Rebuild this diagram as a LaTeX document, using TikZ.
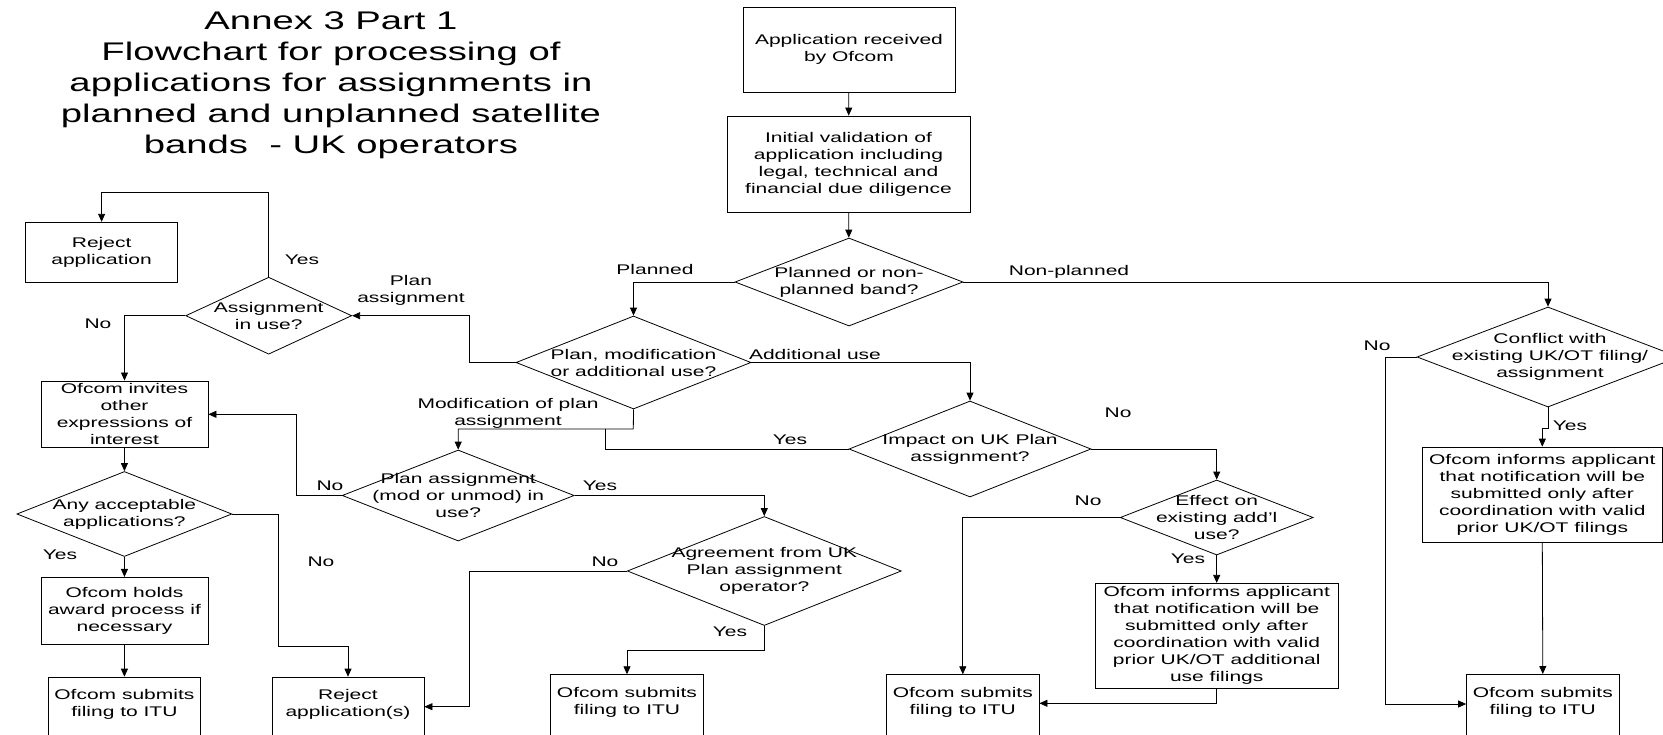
\documentclass[tikz,border=0pt]{standalone}
\usepackage{fontspec}
\setmainfont[FakeStretch=1.5]{Liberation Sans}
\usetikzlibrary{shapes.geometric,arrows.meta}
\begin{document}
\begin{tikzpicture}[x=1pt,y=-1pt,
  line width=0.8pt,
  every node/.style={inner sep=0pt,align=center,font=\fontsize{14}{17}\selectfont},
  box/.style={draw,rectangle},
  dia/.style={draw,diamond},
  lbl/.style={},
  ttl/.style={font=\fontsize{25.5}{31}\selectfont},
  arr/.style={-{Triangle[length=8pt,width=7pt]}},
]
\useasboundingbox (0,0) rectangle (1663,734);

% title
\node[ttl,anchor=north] (title) at (331,11) {Annex 3 Part 1\\Flowchart for processing of\\applications for assignments in\\planned and unplanned satellite\\bands\ \ - UK operators};

% boxes
\node[box,minimum width=212pt,minimum height=85pt] (A) at (849,49.5) {Application received\\by Ofcom};
\node[box,minimum width=243pt,minimum height=96pt] (B) at (848.5,164) {Initial validation of\\application including\\legal, technical and\\financial due diligence};
\node[dia,minimum width=228pt,minimum height=88pt] (D1) at (849,282) {};
\node (D1t) at (D1) {Planned or non-\\planned band?};
\node[dia,minimum width=235pt,minimum height=93pt] (D2) at (633.5,362.5) {};
\node (D2t) at (D2) {Plan, modification\\or additional use?};
\node[dia,minimum width=166pt,minimum height=77pt] (AS) at (268.7,315.7) {};
\node (ASt) at (AS) {Assignment\\in use?};
\node[box,minimum width=152pt,minimum height=60.5pt] (R1) at (101.6,252.5) {Reject\\application};
\node[box,minimum width=167pt,minimum height=66.7pt] (INV) at (124.5,414.3) {Ofcom invites\\other\\expressions of\\interest};
\node[dia,minimum width=215pt,minimum height=85pt] (ANY) at (124.4,514) {};
\node (ANYt) at (ANY) {Any acceptable\\applications?};
\node[box,minimum width=167pt,minimum height=66.7pt] (HOLD) at (124.5,610.7) {Ofcom holds\\award process if\\necessary};
\node[box,minimum width=152.5pt,minimum height=80pt,anchor=north] (S1) at (124.4,676.7) {};
\node (S1t) at ([yshift=-28pt]S1.north) {Ofcom submits\\filing to ITU};
\node[box,minimum width=152pt,minimum height=80pt,anchor=north] (R2) at (348,676.7) {};
\node (R2t) at ([yshift=-28pt]R2.north) {Reject\\application(s)};
\node[dia,minimum width=242pt,minimum height=96pt] (D3) at (970,449) {};
\node (D3t) at (D3) {Impact on UK Plan\\assignment?};
\node[dia,minimum width=232pt,minimum height=91pt] (D4) at (458.2,495.5) {};
\node (D4t) at (D4) {Plan assignment\\(mod or unmod) in\\use?};
\node[dia,minimum width=274pt,minimum height=109pt] (D7) at (764.3,571) {};
\node (D7t) at (D7) {Agreement from UK\\Plan assignment\\operator?};
\node[box,minimum width=152.5pt,minimum height=80pt,anchor=north] (S2) at (627,674.3) {};
\node (S2t) at ([yshift=-28pt]S2.north) {Ofcom submits\\filing to ITU};
\node[dia,minimum width=193pt,minimum height=75pt] (D5) at (1216.7,517.5) {};
\node (D5t) at (D5) {Effect on\\existing add'l\\use?};
\node[box,minimum width=243pt,minimum height=105pt] (INF1) at (1216.7,635.8) {Ofcom informs applicant\\that notification will be\\submitted only after\\coordination with valid\\prior UK/OT additional\\use filings};
\node[box,minimum width=152.5pt,minimum height=80pt,anchor=north] (S3) at (962.8,674.3) {};
\node (S3t) at ([yshift=-28pt]S3.north) {Ofcom submits\\filing to ITU};
\node[dia,minimum width=262pt,minimum height=100pt] (D6) at (1548,357) {};
\node (D6t) at (1550,357) {Conflict with\\existing UK/OT filing/\\assignment};
\node[box,minimum width=239.3pt,minimum height=95.7pt] (INF2) at (1542.3,494.9) {Ofcom informs applicant\\that notification will be\\submitted only after\\coordination with valid\\prior UK/OT filings};
\node[box,minimum width=152.5pt,minimum height=80pt,anchor=north] (S4) at (1542.8,674) {};
\node (S4t) at ([yshift=-28pt]S4.north) {Ofcom submits\\filing to ITU};

% junction coordinates
\coordinate (jA) at (633.3,429);
\coordinate (jB) at (605.7,429);

% connectors
\draw[arr] (A) -- (B);
\draw[arr] (B) -- (D1);
\draw[arr] (D1.west) -| (D2.north);
\draw[arr] (D1.east) -| (D6.north);
\draw[arr] (D2.west) -- (469.6,362.5) |- (AS.east);
\draw[arr] (AS.north) |- (101.6,192.3) -- (R1.north);
\draw[arr] (AS.west) -| (INV.north);
\draw[arr] (INV) -- (ANY);
\draw[arr] (ANY) -- (HOLD);
\draw[arr] (HOLD) -- (S1.north);
\draw[arr] (ANY.east) -- (278.2,514) |- (348,646) -- (R2.north);
\draw[arr] (D2.east) -| (D3.north);
\draw[arr] (D2.south) -- (jA) -| (D4.north);
\draw (D3.west) -| (jB);
\draw[arr] (D3.east) -| (D5.north);
\draw[arr] (D4.west) -- (296.4,495.5) |- (INV.east);
\draw[arr] (D4.east) -| (D7.north);
\draw[arr] (D7.west) -- (469,571) |- (R2.east |- 0,706.7);
\draw[arr] (D7.south) -- (764.3,650) -| (S2.north);
\draw[arr] (D5.west) -| (S3.north);
\draw[arr] (D5.south) -- (INF1.north);
\draw[arr] (INF1.south) |- (S3.east |- 0,703.3);
\draw[arr] (D6.west) -- (1385,357) |- (S4.west |- 0,704);
\draw[arr] (D6.south) -- (1548,428) -- (1542.3,428) -- (INF2.north);
\draw[arr] (INF2.south) -- (S4.north);

% labels
\node[lbl] (lYes1) at (302,260) {Yes};
\node[lbl] (lPA) at (411,290.5) {Plan\\assignment};
\node[lbl] (lNo1) at (98,324) {No};
\node[lbl] (lPl) at (655,269) {Planned};
\node[lbl] (lNP) at (1069,271.5) {Non-planned};
\node[lbl] (lAU) at (815,354) {Additional use};
\node[lbl] (lMod) at (508,413.5) {Modification of plan\\assignment};
\node[lbl] (lYes3) at (790,440) {Yes};
\node[lbl] (lNo3) at (1118,413) {No};
\node[lbl] (lNo4) at (330,486) {No};
\node[lbl] (lYes4) at (600,486) {Yes};
\node[lbl] (lNoA) at (321,562) {No};
\node[lbl] (lYesA) at (60,555) {Yes};
\node[lbl] (lNo7) at (605,562) {No};
\node[lbl] (lYes7) at (730,632) {Yes};
\node[lbl] (lNo5) at (1088,501) {No};
\node[lbl] (lYes5) at (1188,559) {Yes};
\node[lbl] (lNo6) at (1377,346) {No};
\node[lbl] (lYes6) at (1570,426) {Yes};
\end{tikzpicture}
\end{document}
